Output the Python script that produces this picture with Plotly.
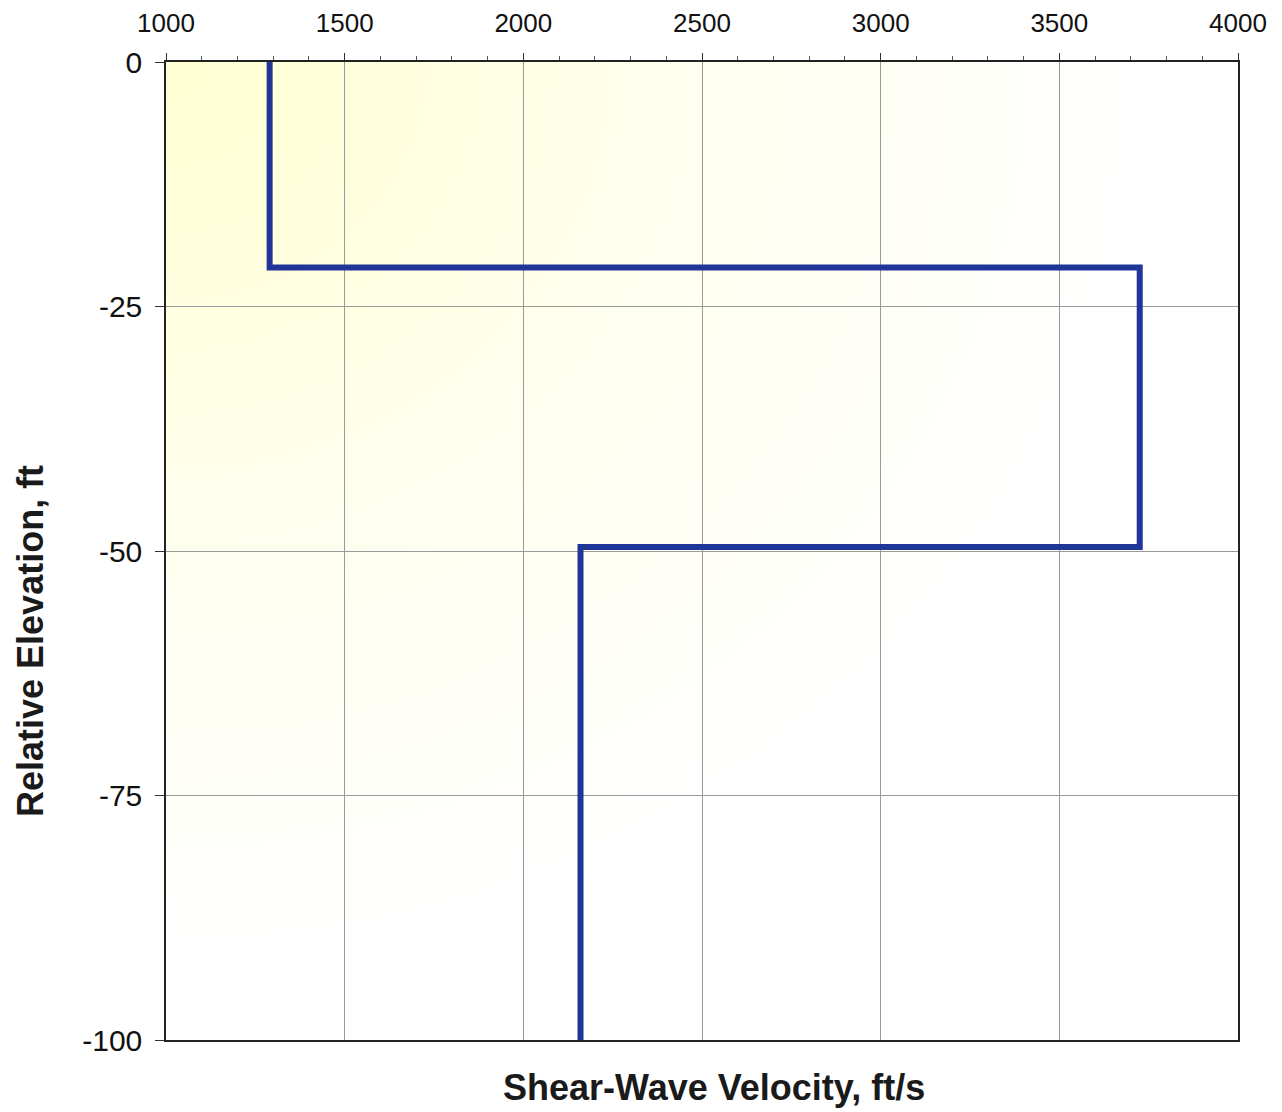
import base64
import plotly.graph_objects as go

# Layered shear-wave velocity profile
layer_top = [0, -21, -49.6]
layer_bottom = [-21, -49.6, -100]
layer_vs = [1290, 3725, 2160]

x_ticks = [1000, 1500, 2000, 2500, 3000, 3500, 4000]
y_ticks = [0, -25, -50, -75, -100]

# build step path from layers
xs, ys = [], []
for top, bot, v in zip(layer_top, layer_bottom, layer_vs):
    xs += [v, v]
    ys += [top, bot]

fig = go.Figure()
fig.add_trace(go.Scatter(
    x=xs, y=ys, mode="lines",
    line=dict(color="#1f3597", width=6),
    hoverinfo="x+y", showlegend=False,
))

svg = (
    '<svg xmlns="http://www.w3.org/2000/svg" width="1000" height="1000" preserveAspectRatio="none">'
    '<defs><radialGradient id="g" cx="0" cy="0" r="1.15" gradientUnits="objectBoundingBox">'
    '<stop offset="0" stop-color="#ffffd2"/>'
    '<stop offset="0.45" stop-color="#fffff0"/>'
    '<stop offset="0.8" stop-color="#ffffff"/>'
    '</radialGradient></defs>'
    '<rect width="1000" height="1000" fill="url(#g)"/></svg>'
)
src = "data:image/svg+xml;base64," + base64.b64encode(svg.encode()).decode()

font_family = "Liberation Sans, Arial, sans-serif"

fig.update_layout(
    width=1274, height=1104,
    margin=dict(l=158, r=44, t=54, b=72),
    paper_bgcolor="white",
    plot_bgcolor="rgba(0,0,0,0)",
    font=dict(family=font_family, color="black"),
    images=[dict(source=src, xref="paper", yref="paper", x=0, y=1,
                 sizex=1, sizey=1, sizing="stretch", layer="below",
                 xanchor="left", yanchor="top")],
    xaxis=dict(
        side="top", range=[1000, 4000], tickvals=x_ticks,
        ticktext=[str(v) for v in x_ticks],
        tickfont=dict(size=26, family=font_family, color="#111"),
        ticks="outside", ticklen=7, tickcolor="#333", tickwidth=1,
        ticklabelstandoff=11, automargin=False,
        showgrid=True, gridcolor="#9a9a9a", gridwidth=1,
        showline=True, linecolor="#222", linewidth=1.5, mirror=True,
        minor=dict(dtick=100, ticks="outside", ticklen=4, tickcolor="#555", showgrid=False),
        zeroline=False, fixedrange=True,
    ),
    yaxis=dict(
        range=[-100, 0], tickvals=y_ticks,
        ticktext=[str(v) for v in y_ticks],
        tickfont=dict(size=30, family=font_family, color="#111"),
        ticks="outside", ticklen=9, tickcolor="#333", tickwidth=1,
        ticklabelstandoff=7, automargin=False,
        showgrid=True, gridcolor="#9a9a9a", gridwidth=1,
        showline=True, linecolor="#222", linewidth=1.5, mirror=True,
        zeroline=False, fixedrange=True,
    ),
    annotations=[
        dict(text="<b>Shear-Wave Velocity, ft/s</b>", xref="paper", yref="paper",
             x=(714 - 166) / (1238 - 166), y=-(1087 - 1040) / (1040 - 62),
             xanchor="center", yanchor="middle", showarrow=False,
             font=dict(size=36, family=font_family, color="#1a1a1a")),
        dict(text="<b>Relative Elevation, ft</b>", xref="paper", yref="paper",
             x=-(166 - 30) / (1238 - 166), y=(1040 - 641) / (1040 - 62),
             xanchor="center", yanchor="middle", showarrow=False, textangle=-90,
             font=dict(size=36, family=font_family, color="#1a1a1a")),
    ],
)

fig.write_html("out.html")
